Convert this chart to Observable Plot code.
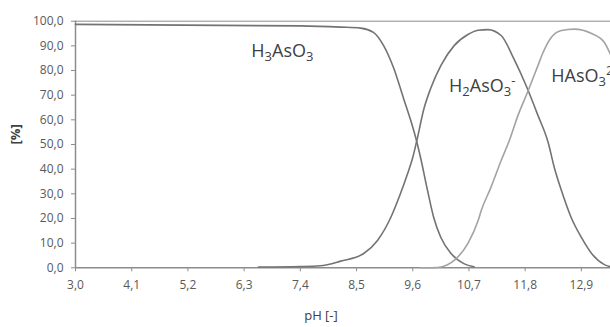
<!DOCTYPE html>
<html>
<head>
<meta charset="utf-8">
<script src="https://cdn.jsdelivr.net/npm/d3@7"></script>
<script src="https://cdn.jsdelivr.net/npm/@observablehq/plot@0.6"></script>
<style>
  html, body { margin: 0; padding: 0; background: #fff; }
</style>
</head>
<body>
<div id="chart"></div>
<script>
// pH grid points and percentages for each species
const phH3 = [3.0, 7.40, 8.19, 8.58, 8.83, 9.03, 9.23, 9.42, 9.56, 9.68, 9.76, 9.89, 10.01, 10.15, 10.35, 10.60, 10.80];
const valH3 = [98.7, 98.1, 97.6, 97.2, 95.5, 90.1, 80.8, 68.7, 59.8, 51.0, 44.0, 31.3, 20.4, 12.3, 5.8, 1.7, 0.4];

const phH2 = [6.58, 7.40, 7.79, 8.19, 8.64, 8.91, 9.17, 9.36, 9.50, 9.60, 9.68, 9.82, 9.95, 10.15, 10.41, 10.68, 10.88, 11.07, 11.33, 11.58, 11.82, 12.05, 12.25, 12.37, 12.51, 12.70, 12.90, 13.10, 13.35, 13.47];
const valH2 = [0.3, 0.5, 0.8, 2.7, 5.8, 11.1, 20.4, 30.1, 38.2, 44.7, 51.6, 64.6, 72.7, 82.0, 90.1, 94.6, 96.3, 96.6, 94.2, 84.7, 73.8, 61.8, 50.8, 40.7, 31.3, 20.4, 12.3, 5.8, 1.3, 0.4];

const phH1 = [9.76, 10.09, 10.15, 10.41, 10.68, 10.88, 10.94, 11.13, 11.33, 11.49, 11.66, 11.86, 12.05, 12.15, 12.31, 12.51, 12.76, 13.10, 13.35, 13.47];
const valH1 = [0.0, 0.1, 0.3, 3.0, 9.9, 19.2, 23.2, 32.6, 43.5, 51.6, 61.8, 71.9, 82.0, 87.3, 93.4, 96.2, 96.8, 95.0, 91.4, 86.5];

const xTicks = [3.0, 4.1, 5.2, 6.3, 7.4, 8.5, 9.6, 10.7, 11.8, 12.9];
const yTicks = [0, 10, 20, 30, 40, 50, 60, 70, 80, 90, 100];

const labelNames = ["H₃AsO₃", "H₂AsO₃⁻", "HAsO₃²⁻"];
const labelPh = [6.44, 10.31, 12.31];
const labelVal = [88.0, 73.6, 77.6];

const toRows = (xs, ys) => xs.map((x, i) => ({ph: x, v: ys[i]}));
const labels = labelNames.map((t, i) => ({t, ph: labelPh[i], v: labelVal[i]}));
const fmt = d => d.toFixed(1).replace(".", ",");

const chart = Plot.plot({
  width: 610,
  height: 327,
  marginLeft: 75,
  marginRight: 0,
  marginTop: 20.7,
  marginBottom: 59.7,
  style: {fontFamily: "'Open Sans', sans-serif", background: "#fff", overflow: "visible"},
  x: {domain: [3.0, 13.47]},
  y: {domain: [0, 100]},
  marks: [
    Plot.ruleY([100], {stroke: "#8c8c8c", strokeWidth: 1}),
    Plot.axisY({ticks: yTicks, tickFormat: fmt, tickSize: 4, tickPadding: 8, fontSize: 12, color: "#595959", stroke: "#8c8c8c", label: null}),
    Plot.axisX({ticks: xTicks, tickFormat: fmt, tickSize: 4, tickPadding: 9, fontSize: 12, color: "#595959", stroke: "#8c8c8c", label: null}),
    Plot.ruleX([3.0], {stroke: "#8c8c8c", strokeWidth: 1.5}),
    Plot.ruleY([0], {stroke: "#8c8c8c", strokeWidth: 1.5}),
    Plot.line(toRows(phH3, valH3), {x: "ph", y: "v", stroke: "#737373", strokeWidth: 1.6, curve: "monotone-x"}),
    Plot.line(toRows(phH2, valH2), {x: "ph", y: "v", stroke: "#737373", strokeWidth: 1.6, curve: "monotone-x"}),
    Plot.line(toRows(phH1, valH1), {x: "ph", y: "v", stroke: "#a3a3a3", strokeWidth: 1.6, curve: "monotone-x"}),
    Plot.text(labels, {x: "ph", y: "v", text: "t", textAnchor: "start", fontSize: 18, fill: "#404040", className: "species"}),
    Plot.text(["[%]"], {frameAnchor: "left", dx: -60, rotate: -90, fontSize: 13, fill: "#404040", fontWeight: "bold"}),
    Plot.text(["pH [-]"], {frameAnchor: "bottom", dy: 52, dx: -22, fontSize: 13, fill: "#404040"})
  ]
});

// Render Unicode sub/superscripts as real tspans (text stays text)
const subMap = {"₀":"0","₁":"1","₂":"2","₃":"3","₄":"4","₅":"5","₆":"6","₇":"7","₈":"8","₉":"9"};
const supMap = {"⁻":"-","²":"2","³":"3","¹":"1","⁺":"+"};
d3.select(chart).selectAll("g.species text").each(function() {
  const str = this.textContent;
  const runs = [];
  for (const ch of str) {
    const kind = subMap[ch] ? "sub" : supMap[ch] ? "sup" : "n";
    const c = subMap[ch] || supMap[ch] || ch;
    if (runs.length && runs[runs.length - 1].kind === kind) runs[runs.length - 1].s += c;
    else runs.push({kind, s: c});
  }
  const el = d3.select(this);
  el.text(null);
  let shift = 0;
  for (const r of runs) {
    const target = r.kind === "sub" ? 4 : r.kind === "sup" ? -7 : 0;
    const ts = el.append("tspan").attr("dy", target - shift).text(r.s);
    if (r.kind !== "n") ts.attr("font-size", 13);
    shift = target;
  }
});

document.getElementById("chart").appendChild(chart);
</script>
</body>
</html>
